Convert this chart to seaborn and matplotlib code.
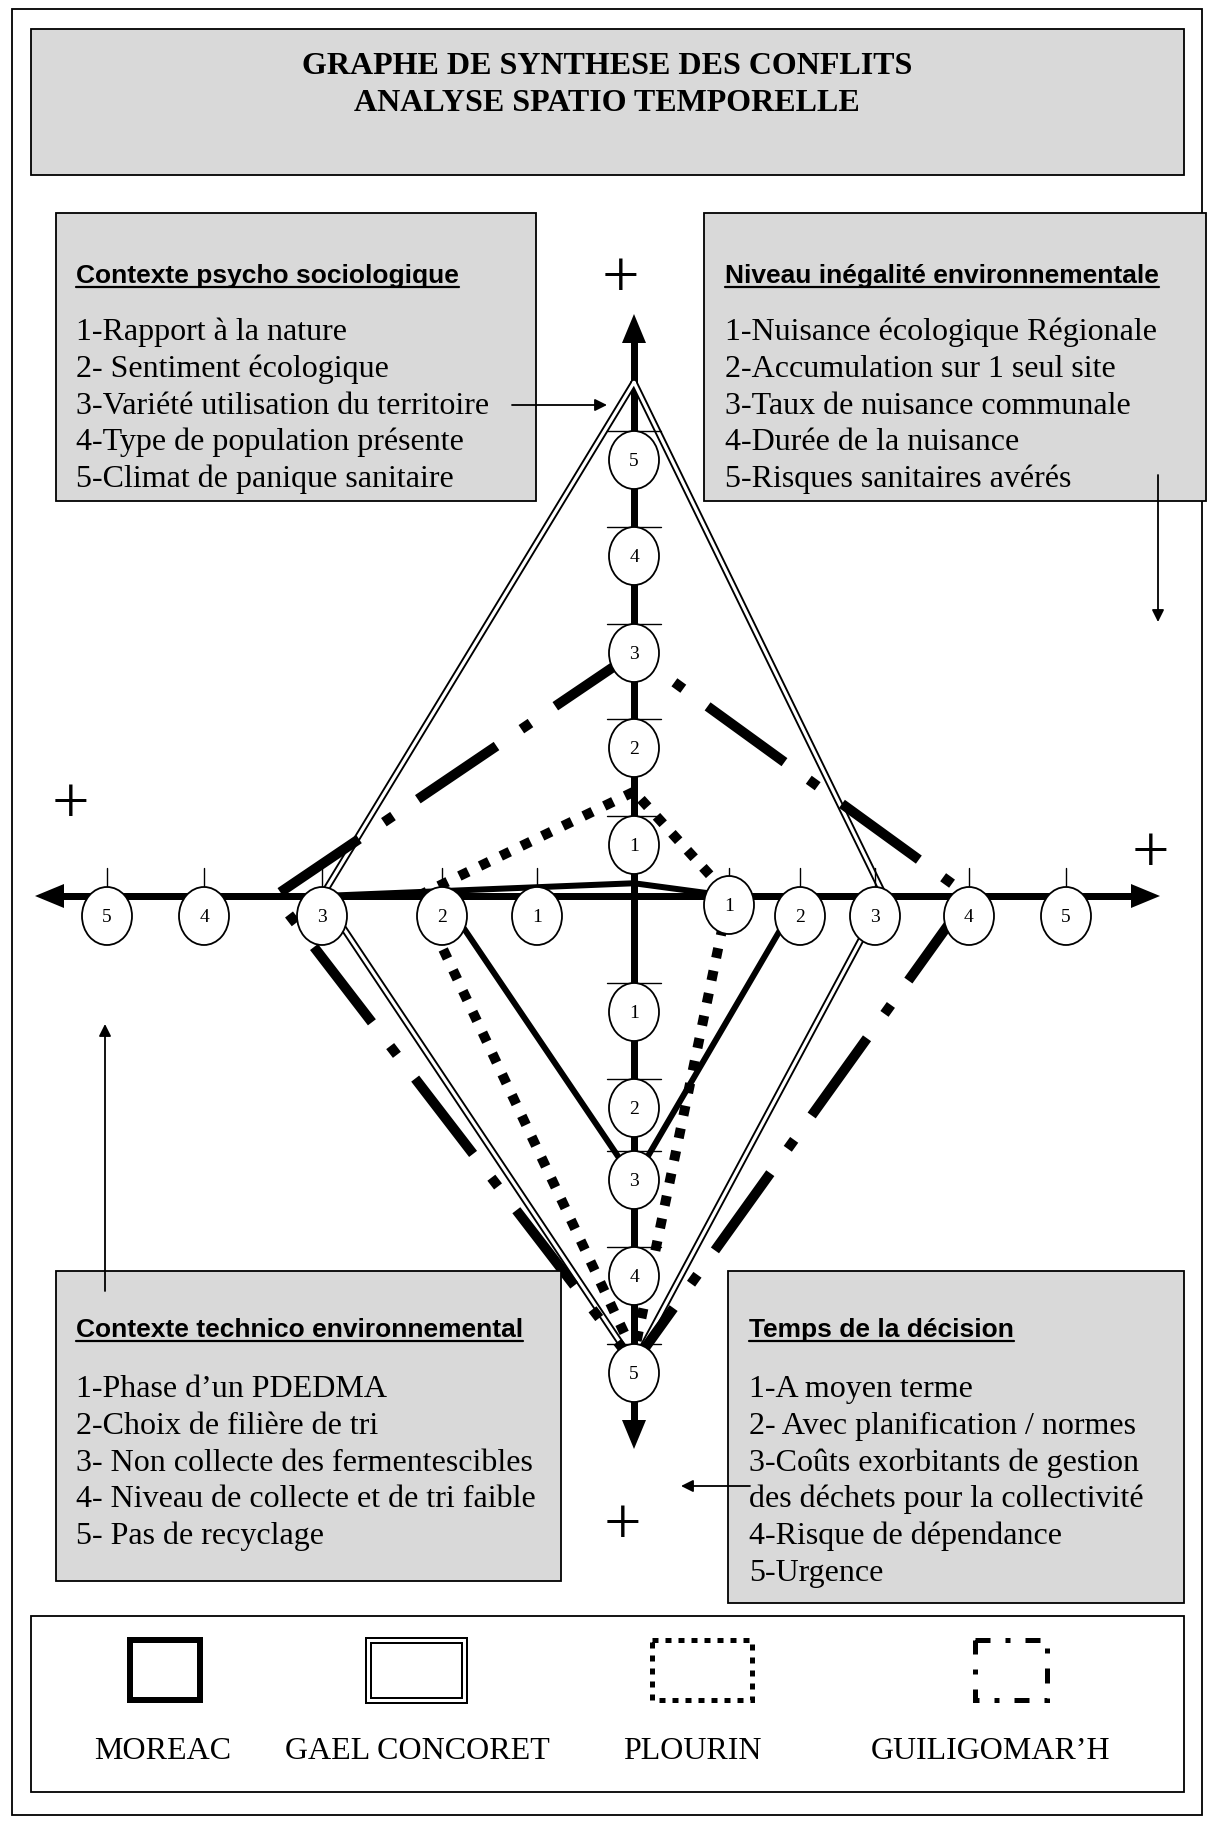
import numpy as np
import matplotlib
matplotlib.use("Agg")
import matplotlib.pyplot as plt
from matplotlib.patches import Rectangle, Ellipse, Polygon
import seaborn as sns

sns.set_theme(style="white")
plt.rcParams['font.family'] = ['Liberation Serif', 'DejaVu Serif']
plt.rcParams['text.color'] = 'black'

# --- textes ---
title_lines = ["GRAPHE DE SYNTHESE DES CONFLITS", "ANALYSE SPATIO TEMPORELLE"]

psycho_title = "Contexte psycho sociologique"
psycho_items = ["1-Rapport à la nature", "2- Sentiment écologique",
                "3-Variété utilisation du territoire", "4-Type de population présente",
                "5-Climat de panique sanitaire"]

inegal_title = "Niveau inégalité environnementale"
inegal_items = ["1-Nuisance écologique Régionale", "2-Accumulation sur 1 seul site",
                "3-Taux de nuisance communale", "4-Durée de la nuisance",
                "5-Risques sanitaires avérés"]

techn_title = "Contexte technico environnemental"
techn_items = ["1-Phase d\u2019un PDEDMA", "2-Choix de filière de tri",
               "3- Non collecte des fermentescibles", "4- Niveau de collecte et de tri faible",
               "5- Pas de recyclage"]

temps_title = "Temps de la décision"
temps_items = ["1-A moyen terme", "2- Avec planification / normes",
               "3-Coûts exorbitants de gestion", "des déchets pour la collectivité",
               "4-Risque de dépendance", "5-Urgence"]

levels = [1, 2, 3, 4, 5]
communes = ["MOREAC", "GAEL CONCORET", "PLOURIN", "GUILIGOMAR\u2019H"]

# chaque commune : suite de sommets (axe, niveau)
moreac_axes = ["left", "top", "right", "right", "bottom", "left"]
moreac_levels = [3, 0.25, 1, 2, 3, 2]

gael_axes = ["top", "left", "bottom", "right", "top"]
gael_levels = [5.8, 3, 4.9, 3.1, 5.8]

plourin_axes = ["top", "left", "bottom", "right", "top"]
plourin_levels = [1.55, 2.2, 4.8, 1, 1.55]

guili_axes = ["top", "left", "bottom", "right", "top"]
guili_levels = [3, 3.4, 4.9, 4, 3]

# --- mise en page (pixels) ---
CX, CY = 634, 896
level_pos = {
    "top":    [0, 51, 148, 243, 340, 436, 533],
    "bottom": [0, 116, 212, 284, 380, 477, 574],
    "left":   [0, 97, 192, 312, 430, 527, 624],
    "right":  [0, 95, 166, 241, 335, 432, 529],
}
dirs = {"top": (0, -1), "bottom": (0, 1), "left": (-1, 0), "right": (1, 0)}
PT = 0.72  # points par pixel a 100 dpi


def to_xy(axis, level):
    d = np.interp(level, np.arange(7), level_pos[axis])
    dx, dy = dirs[axis]
    return CX + dx * d, CY + dy * d


fig = plt.figure(figsize=(12.1, 18.25), dpi=100)
ax = fig.add_axes([0, 0, 1, 1])
ax.set_xlim(0, 1210)
ax.set_ylim(1825, 0)
ax.axis("off")

GREY = "#d9d9d9"

# cadre general
ax.add_patch(Rectangle((12, 9), 1190, 1806, fc="white", ec="black", lw=1.3, zorder=0))

# titre
ax.add_patch(Rectangle((31, 29), 1153, 146, fc=GREY, ec="black", lw=1.3, zorder=1))
for i, line in enumerate(title_lines):
    ax.text(607, 74 + 37 * i, line, ha="center", va="baseline", fontsize=23,
            fontweight="bold", zorder=2)

# boites de texte
boxes = [
    ((56, 213, 480, 288), psycho_title, psycho_items, 76, 283, 340),
    ((704, 213, 502, 288), inegal_title, inegal_items, 725, 283, 340),
    ((56, 1271, 505, 310), techn_title, techn_items, 76, 1337, 1397),
    ((728, 1271, 456, 332), temps_title, temps_items, 749, 1337, 1397),
]
headings = []
for (x, y, w, h), head, items, tx, hy, iy in boxes:
    ax.add_patch(Rectangle((x, y), w, h, fc=GREY, ec="black", lw=1.3, zorder=4))
    t = ax.text(tx, hy, head, ha="left", va="baseline", fontsize=19, fontweight="bold",
                family=["Liberation Sans", "DejaVu Sans"], zorder=5)
    headings.append(t)
    for k, item in enumerate(items):
        ax.text(tx, iy + 36.8 * k, item, ha="left", va="baseline", fontsize=23, zorder=5)

# axes en croix
axis_lw = 7 * PT
ax.plot([CX, CX], [340, 1423], color="black", lw=axis_lw, solid_capstyle="butt", zorder=2)
ax.plot([60, 1135], [CY, CY], color="black", lw=axis_lw, solid_capstyle="butt", zorder=2)
heads = [
    [(CX, 314), (CX - 12, 343), (CX + 12, 343)],
    [(CX, 1449), (CX - 12, 1420), (CX + 12, 1420)],
    [(35, CY), (64, CY - 12), (64, CY + 12)],
    [(1160, CY), (1131, CY - 12), (1131, CY + 12)],
]
for tri in heads:
    ax.add_patch(Polygon(tri, closed=True, fc="black", ec="black", lw=0, zorder=2))

# signes +
for px, py in [(620, 297), (70, 823), (1150, 872), (622, 1544)]:
    ax.text(px, py, "+", ha="center", va="baseline", fontsize=48, zorder=2)

# communes
def draw_series(axes_names, lvls, lw, color="black", dashes=None, z=3):
    pts = np.array([to_xy(a, l) for a, l in zip(axes_names, lvls)])
    sns.lineplot(x=pts[:, 0], y=pts[:, 1], sort=False, estimator=None, ax=ax,
                 color=color, lw=lw, zorder=z)
    line = ax.lines[-1]
    line.set_solid_joinstyle("miter")
    line.set_dash_capstyle("butt")
    if dashes is not None:
        line.set_linestyle((0, dashes))  # en multiples de l'epaisseur
    return line

draw_series(moreac_axes, moreac_levels, 6 * PT)
draw_series(gael_axes, gael_levels, 7 * PT)
draw_series(gael_axes, gael_levels, 3.2 * PT, color="white", z=3.1)
draw_series(plourin_axes, plourin_levels, 10 * PT, dashes=(1.0, 1.3), z=3.2)
draw_series(guili_axes, guili_levels, 10 * PT, dashes=(9.5, 3.0, 1.1, 3.0), z=3.3)

# graduations et cercles
EW, EH = 50, 58
for axis in ["top", "bottom"]:
    for lv in levels:
        x, y = to_xy(axis, lv)
        ax.plot([CX - 27, CX + 27], [y - EH / 2, y - EH / 2], color="black", lw=1.0, zorder=3.5)
        ax.add_patch(Ellipse((x, y), EW, EH, fc="white", ec="black", lw=1.3, zorder=3.6))
        ax.text(x, y + 6, str(lv), ha="center", va="baseline", fontsize=14, zorder=3.7)
for axis, offs in [("left", [20, 20, 20, 20, 20]), ("right", [9, 20, 20, 20, 20])]:
    for lv, off in zip(levels, offs):
        x, y = to_xy(axis, lv)
        ax.plot([x, x], [CY - 28, CY], color="black", lw=1.0, zorder=3.5)
        ax.add_patch(Ellipse((x, y + off), EW, EH, fc="white", ec="black", lw=1.3, zorder=3.6))
        ax.text(x, y + off + 6, str(lv), ha="center", va="baseline", fontsize=14, zorder=3.7)

# fleches de renvoi
arrows = [((512, 405), (607, 405)), ((1158, 475), (1158, 622)),
          ((105, 1291), (105, 1024)), ((750, 1486), (681, 1486))]
for start, end in arrows:
    ax.annotate("", xy=end, xytext=start, zorder=6,
                arrowprops=dict(arrowstyle="-|>", color="black", lw=1.3,
                                mutation_scale=18, shrinkA=0, shrinkB=0))

# legende
ax.add_patch(Rectangle((31, 1616), 1153, 176, fc="white", ec="black", lw=1.3, zorder=1))
sym_y, sym_h = 1640, 60
ax.add_patch(Rectangle((130, sym_y), 70, sym_h, fill=False, ec="black", lw=6 * PT, zorder=2))
ax.add_patch(Rectangle((368, sym_y), 96, sym_h, fill=False, ec="black", lw=7 * PT, zorder=2))
ax.add_patch(Rectangle((368, sym_y), 96, sym_h, fill=False, ec="white", lw=3 * PT, zorder=2.1))
ax.add_patch(Rectangle((652, sym_y), 100, sym_h, fill=False, ec="black", lw=5 * PT,
                       ls=(0, (1.2, 1.4)), zorder=2))
ax.add_patch(Rectangle((975, sym_y), 72, sym_h, fill=False, ec="black", lw=5 * PT,
                       ls=(0, (3, 3, 1, 3)), zorder=2))
for name, lx in zip(communes, [163, 417, 692, 991]):
    ax.text(lx, 1759, name, ha="center", va="baseline", fontsize=23, zorder=2)

# soulignement des titres de boites
fig.canvas.draw()
renderer = fig.canvas.get_renderer()
inv = ax.transData.inverted()
for t in headings:
    bb = t.get_window_extent(renderer)
    (x0, _), (x1, _) = inv.transform([[bb.x0, bb.y0], [bb.x1, bb.y1]])
    by = t.get_position()[1] + 4
    ax.plot([x0, x1], [by, by], color="black", lw=1.6, zorder=5)

ax.set_xlim(0, 1210)
ax.set_ylim(1825, 0)
fig.savefig("out.png", dpi=100)
